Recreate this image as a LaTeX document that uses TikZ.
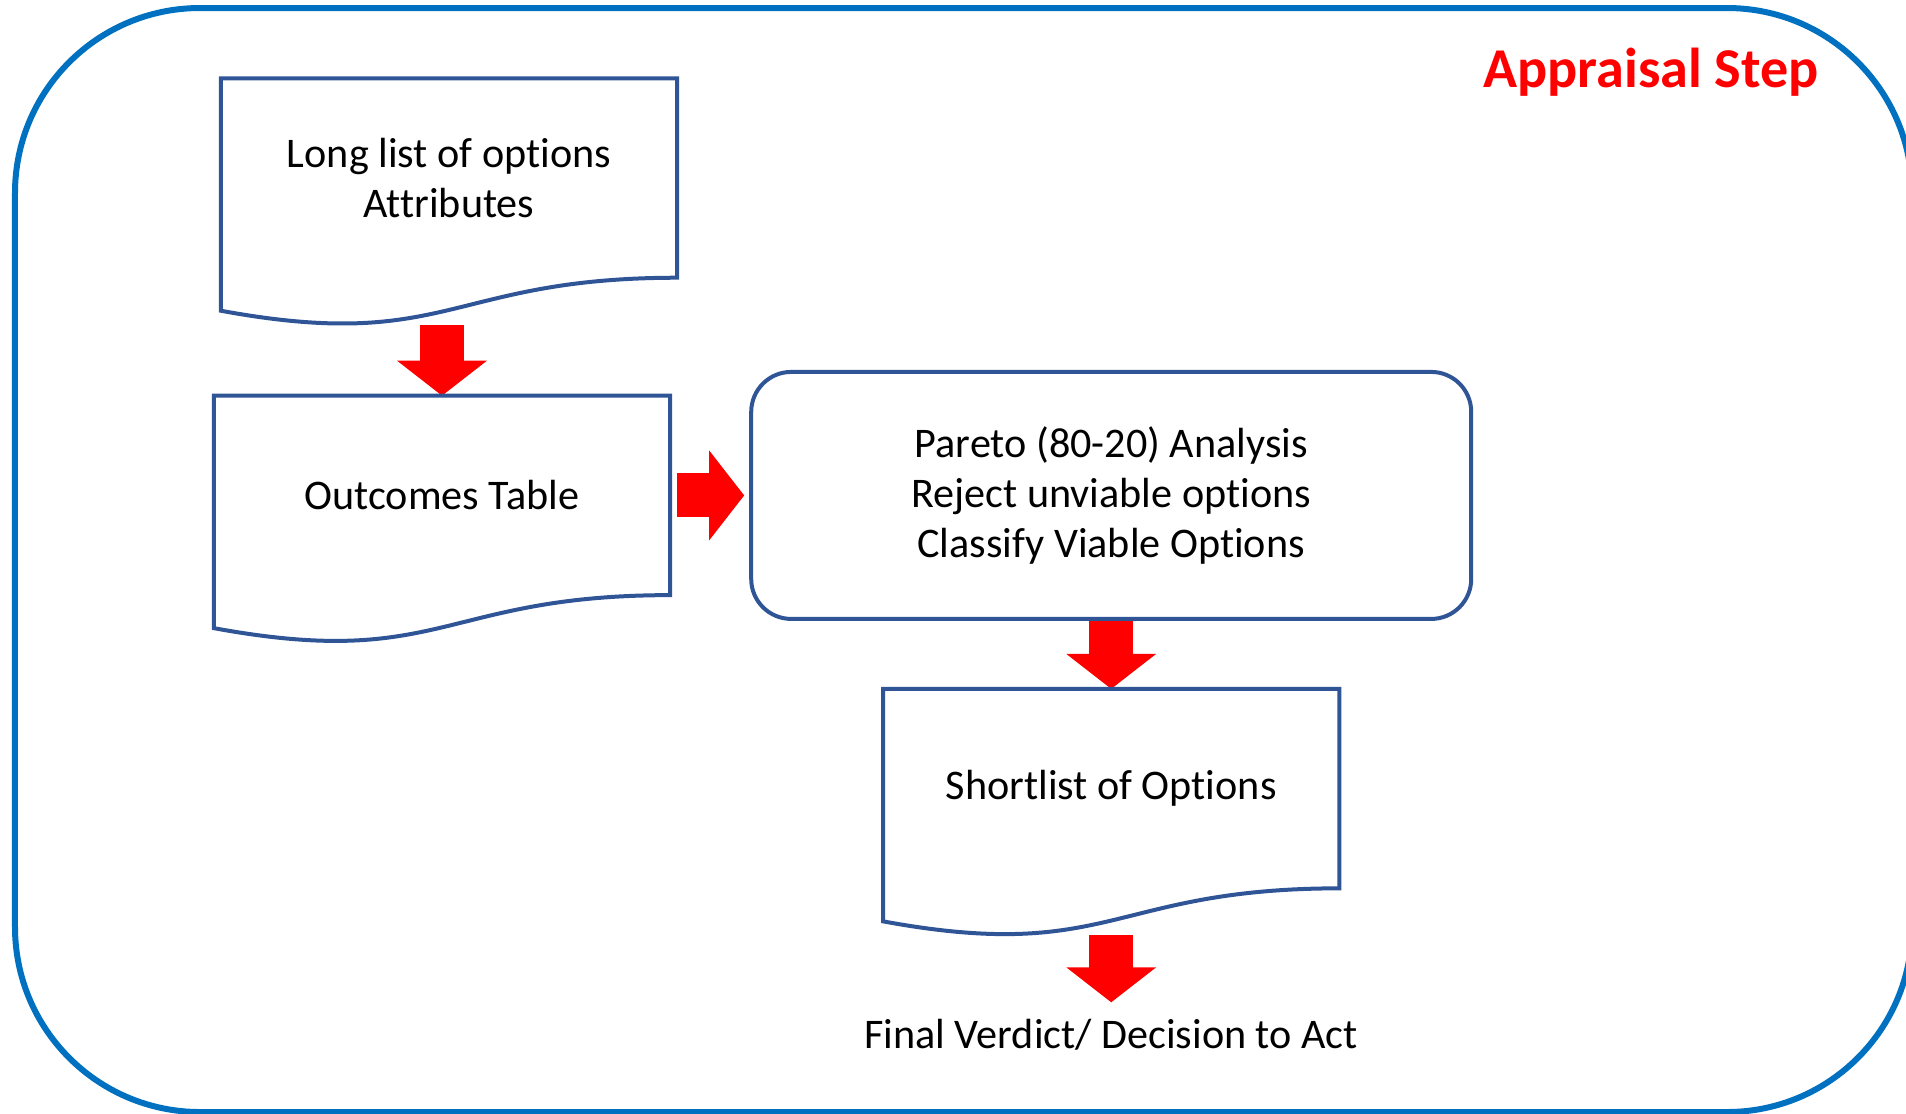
\documentclass[tikz,border=0pt]{standalone}
\usepackage{fontspec}
\setmainfont{Carlito}[Ligatures=NoCommon]
\usetikzlibrary{arrows.meta,positioning,calc}
\definecolor{FrameBlue}{RGB}{0,112,192}
\definecolor{BoxBlue}{RGB}{47,85,151}
\definecolor{ArrowRed}{RGB}{255,0,0}

\begin{document}
\begin{tikzpicture}[
  node distance=0.8cm,
  doc/.style={minimum width=4.55cm, minimum height=1.98cm, align=center,
    inner sep=0pt, font=\fontsize{12}{14.2}\selectfont},
  proc/.style={draw=BoxBlue, line width=0.04cm, rounded corners=0.4cm, align=center,
    minimum width=7.2cm, minimum height=2.47cm, font=\fontsize{12}{14.2}\selectfont},
  docline/.style={draw=BoxBlue, line width=0.04cm, line join=miter},
  block/.style={-{Triangle[length=0.35cm, width=0.88cm]}, line width=0.44cm, draw=ArrowRed}
]
\useasboundingbox (0,0) rectangle (19.06,-11.13);
\draw[FrameBlue, line width=0.06cm, rounded corners=1.85cm] (0.15,-0.08) rectangle (19.12,-11.12);
\node[font=\fontsize{16}{19}\selectfont\bfseries, text=ArrowRed] (title) at (16.51,-0.72) {Appraisal Step};
\node[doc] (longlist) at (4.49,-1.78) {Long list of options\\Attributes};
\node[doc, below=1.18cm of longlist, xshift=-0.07cm] (outcomes) {Outcomes Table};
\node[proc, right=0.79cm of outcomes] (pareto) {Pareto (80-20) Analysis\\Reject unviable options\\Classify Viable Options};
\node[doc, below=0.68cm of pareto] (shortlist) {Shortlist of Options};
\node[inner sep=0pt, font=\fontsize{12}{14.2}\selectfont, below=1.30cm of shortlist] (verdict) {Final Verdict/ Decision to Act};
% red block arrows
\draw[block, shorten <=0.47cm] (longlist.south -| outcomes.north) -- (outcomes.north);
\draw[block, shorten <=0.07cm, shorten >=0.05cm] (outcomes.east) -- (pareto.west);
\draw[block] (pareto.south) -- (shortlist.north);
\draw[block, shorten <=0.47cm, shorten >=0.16cm] (shortlist.south) -- (verdict.north);
% document outlines
\foreach \n in {longlist,outcomes,shortlist}
  \draw[docline] (\n.north west) -- (\n.north east) -- (\n.south east)
    .. controls (\n.south) and ([yshift=-0.75cm]\n.south) .. ([yshift=-0.33cm]\n.south west) -- cycle;
\end{tikzpicture}
\end{document}
